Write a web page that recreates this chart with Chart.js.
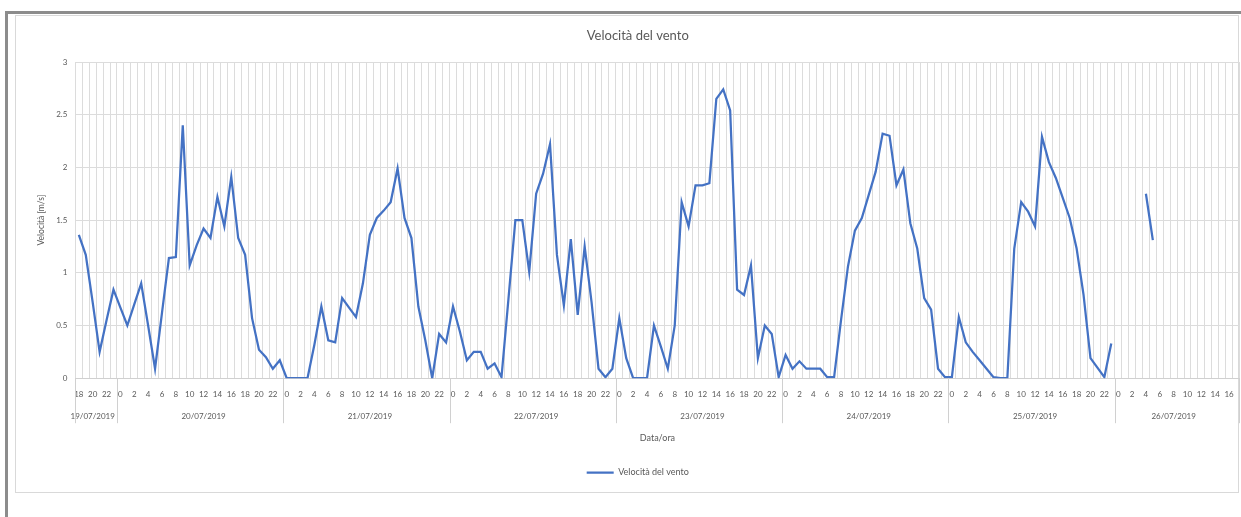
<!DOCTYPE html>
<html>
<head>
<meta charset="utf-8">
<script src="https://cdn.jsdelivr.net/npm/chart.js@4.4.0/dist/chart.umd.min.js"></script>
<style>
  html, body { margin: 0; padding: 0; background: #fff; }
  #wrap { position: relative; width: 1241px; height: 517px; overflow: hidden; }
  #frame { position: absolute; left: 5px; top: 11px; width: 1250px; height: 520px;
           border-left: 3px solid #8c8c8c; border-top: 3px solid #8c8c8c; }
  #box { position: absolute; left: 15px; top: 15px; width: 1222px; height: 476px;
         border: 1px solid #d9d9d9; }
  canvas { position: absolute; left: 0; top: 0; }
</style>
</head>
<body>
<div id="wrap">
  <div id="frame"></div>
  <div id="box"></div>
  <canvas id="ventoCanvas" width="1241" height="517"></canvas>
</div>
<script>
// giorni e ore (prima ora e ultima ora di ogni giorno)
const giorni = ["19/07/2019", "20/07/2019", "21/07/2019", "22/07/2019",
                "23/07/2019", "24/07/2019", "25/07/2019", "26/07/2019"];
const oraInizio = [18, 0, 0, 0, 0, 0, 0, 0];
const oraFine   = [23, 23, 23, 23, 23, 23, 23, 17];

// velocità del vento [m/s], un valore per ora
const vel19 = [1.36, 1.17, 0.72, 0.25, 0.55, 0.84];
const vel20 = [0.67, 0.50, 0.70, 0.90, 0.50, 0.09, 0.62, 1.14, 1.15, 2.40, 1.07, 1.26,
               1.42, 1.33, 1.72, 1.44, 1.91, 1.33, 1.17, 0.57, 0.27, 0.20, 0.09, 0.17];
const vel21 = [0, 0, 0, 0, 0.32, 0.68, 0.36, 0.34, 0.76, 0.67, 0.58, 0.90,
               1.36, 1.52, 1.59, 1.67, 1.99, 1.52, 1.33, 0.68, 0.36, 0, 0.42, 0.34];
const vel22 = [0.68, 0.44, 0.17, 0.25, 0.25, 0.09, 0.14, 0.01, 0.75, 1.50, 1.50, 1.01,
               1.75, 1.94, 2.22, 1.17, 0.69, 1.32, 0.60, 1.25, 0.72, 0.09, 0.01, 0.09];
const vel23 = [0.57, 0.19, 0, 0, 0, 0.50, 0.30, 0.09, 0.50, 1.67, 1.44, 1.83,
               1.83, 1.85, 2.65, 2.74, 2.54, 0.84, 0.79, 1.07, 0.19, 0.50, 0.42, 0.01];
const vel24 = [0.22, 0.09, 0.16, 0.09, 0.09, 0.09, 0.01, 0.01, 0.55, 1.06, 1.40, 1.52,
               1.74, 1.96, 2.32, 2.30, 1.83, 1.98, 1.47, 1.23, 0.76, 0.65, 0.09, 0.01];
const vel25 = [0.01, 0.58, 0.34, 0.25, 0.17, 0.09, 0.01, 0, 0, 1.23, 1.67, 1.58,
               1.44, 2.29, 2.05, 1.90, 1.71, 1.52, 1.23, 0.79, 0.19, 0.10, 0.01, 0.33];
const vel26 = [null, null, null, null, 1.75, 1.31, null, null, null, null, null, null,
               null, null, null, null, null, null];

const yTicks = [0, 0.5, 1, 1.5, 2, 2.5, 3];

const velocita = [].concat(vel19, vel20, vel21, vel22, vel23, vel24, vel25, vel26);

// etichette orarie + indice del giorno per ogni punto
const ore = [];
const giornoDi = [];
const inizioGiorno = [];
giorni.forEach((g, d) => {
    inizioGiorno.push(ore.length);
    for (let h = oraInizio[d]; h <= oraFine[d]; h++) {
        ore.push(String(h));
        giornoDi.push(d);
    }
});
inizioGiorno.push(ore.length);

// indice vicino al centro di ogni giorno, dove mettere la data
const centroGiorno = giorni.map((g, d) =>
    2 * Math.floor((inizioGiorno[d] + inizioGiorno[d + 1]) / 4));

const grigio = "#595959";
const fontBase = "Lato";

// linee di separazione dei giorni sotto l'asse
const separatori = {
    id: "separatori",
    afterDraw(chart) {
        const x = chart.scales.x;
        const meta = (x.getPixelForValue(1) - x.getPixelForValue(0)) / 2;
        const ctx = chart.ctx;
        ctx.save();
        ctx.strokeStyle = "#d0d0d0";
        ctx.lineWidth = 1;
        inizioGiorno.forEach(i => {
            const px = i < ore.length ? x.getPixelForValue(i) - meta
                                      : x.getPixelForValue(ore.length - 1) + meta;
            ctx.beginPath();
            ctx.moveTo(Math.round(px) + 0.5, chart.chartArea.bottom);
            ctx.lineTo(Math.round(px) + 0.5, chart.chartArea.bottom + 45);
            ctx.stroke();
        });
        ctx.restore();
    }
};

const ventoChart = new Chart(document.getElementById("ventoCanvas"), {
    type: "line",
    data: {
        labels: ore,
        datasets: [{
            label: "Velocità del vento",
            data: velocita,
            borderColor: "#4472C4",
            backgroundColor: "#4472C4",
            borderWidth: 2.25,
            pointRadius: 0,
            tension: 0,
            spanGaps: false
        }]
    },
    options: {
        responsive: false,
        animation: false,
        layout: { padding: { top: 20, left: 36, right: 1.5, bottom: 30 } },
        plugins: {
            title: {
                display: true,
                text: "Velocità del vento",
                color: grigio,
                font: { family: fontBase, size: 13, weight: "normal" },
                padding: { top: 8, bottom: 18.4 }
            },
            legend: {
                position: "bottom",
                labels: {
                    color: grigio,
                    font: { family: fontBase, size: 9 },
                    usePointStyle: true,
                    pointStyle: "line",
                    pointStyleWidth: 27,
                    padding: 10
                }
            },
            tooltip: { enabled: false }
        },
        scales: {
            x: {
                type: "category",
                offset: true,
                grid: { offset: true, color: "#dcdcdc", drawTicks: false },
                border: { color: "#d0d0d0" },
                ticks: {
                    autoSkip: false,
                    maxRotation: 0,
                    minRotation: 0,
                    padding: 5,
                    color: grigio,
                    font: { family: fontBase, size: 8, lineHeight: 2.75 },
                    callback: (v, i) => [
                        Number(ore[i]) % 2 === 0 ? ore[i] : "",
                        centroGiorno.includes(i) ? giorni[giornoDi[i]] : ""
                    ]
                },
                title: {
                    display: true,
                    text: "Data/ora",
                    color: grigio,
                    font: { family: fontBase, size: 9 },
                    padding: { top: 0, bottom: 15 }
                }
            },
            y: {
                min: 0,
                max: 3,
                afterBuildTicks: s => { s.ticks = yTicks.map(v => ({ value: v })); },
                grid: { color: "#dcdcdc", drawTicks: false },
                border: { display: false },
                ticks: {
                    padding: 8,
                    color: grigio,
                    font: { family: fontBase, size: 8 },
                    callback: v => String(v)
                },
                title: {
                    display: true,
                    text: "Velocità [m/s]",
                    color: grigio,
                    font: { family: fontBase, size: 8.5 },
                    padding: { top: 0, bottom: 2 }
                }
            }
        }
    },
    plugins: [separatori]
});
</script>
</body>
</html>
